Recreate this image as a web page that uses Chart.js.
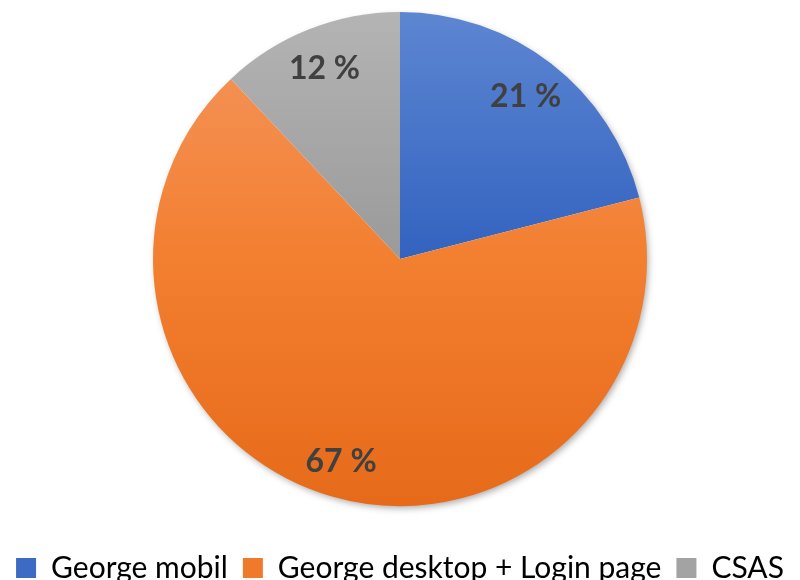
<!DOCTYPE html>
<html>
<head>
<meta charset="utf-8">
<script src="https://cdn.jsdelivr.net/npm/chart.js@4/dist/chart.umd.min.js"></script>
<style>
  html, body { margin: 0; padding: 0; background: #fff; overflow: hidden; width: 800px; height: 580px; }
  #marco { position: absolute; left: 0; top: -20px; width: 800px; height: 613px; }
</style>
</head>
<body>
<div id="marco"><canvas id="graficoPie"></canvas></div>
<script>
// --- datos ---
const categorias = ['George mobil', 'George desktop + Login page', 'CSAS'];
const porcentajes = [21, 67, 12];

// colores (planos para la leyenda, degradado para el pastel)
const coloresPlanos = ['#3d6bc3', '#f07a2b', '#a3a3a3'];
const degradados = [
  ['#5d86d2', '#3363c0', '#2a58b5'],
  ['#f4965f', '#f37f30', '#e66a19'],
  ['#b4b4b4', '#9a9a9a', '#888888']
];
const RADIO = 247;

function colorSector(context) {
  const chart = context.chart;
  const area = chart.chartArea;
  const i = context.dataIndex;
  if (!area) return coloresPlanos[i];
  const cy = (area.top + area.bottom) / 2;
  const g = chart.ctx.createLinearGradient(0, cy - RADIO, 0, cy + RADIO);
  g.addColorStop(0, degradados[i][0]);
  g.addColorStop(0.5, degradados[i][1]);
  g.addColorStop(1, degradados[i][2]);
  return g;
}

// sombra suave debajo del pastel
const sombraPlugin = {
  id: 'sombra',
  beforeDatasetsDraw(chart) {
    const arc = chart.getDatasetMeta(0).data[0];
    if (!arc) return;
    const ctx = chart.ctx;
    ctx.save();
    ctx.shadowColor = 'rgba(0,0,0,0.35)';
    ctx.shadowBlur = 7;
    ctx.shadowOffsetX = 2;
    ctx.shadowOffsetY = 3;
    ctx.fillStyle = '#ffffff';
    ctx.beginPath();
    ctx.arc(arc.x, arc.y, arc.outerRadius - 1, 0, Math.PI * 2);
    ctx.fill();
    ctx.restore();
  }
};

// etiquetas de porcentaje dentro de cada sector
const etiquetasPlugin = {
  id: 'etiquetas',
  afterDatasetsDraw(chart) {
    const ctx = chart.ctx;
    const meta = chart.getDatasetMeta(0);
    ctx.save();
    ctx.font = 'bold 32px Lato';
    ctx.fillStyle = '#404040';
    ctx.textAlign = 'center';
    ctx.textBaseline = 'middle';
    meta.data.forEach((arc, i) => {
      const p = arc.getProps(['x', 'y', 'startAngle', 'endAngle', 'outerRadius'], true);
      const medio = (p.startAngle + p.endAngle) / 2;
      const r = p.outerRadius * (porcentajes[i] > 50 ? 0.855 : 0.83);
      ctx.fillText(porcentajes[i] + ' %', p.x + Math.cos(medio) * r, p.y + Math.sin(medio) * r);
    });
    ctx.restore();
  }
};

new Chart(document.getElementById('graficoPie'), {
  type: 'pie',
  data: {
    labels: categorias,
    datasets: [{
      data: porcentajes,
      backgroundColor: colorSector,
      borderWidth: 0,
      hoverOffset: 0
    }]
  },
  options: {
    responsive: true,
    maintainAspectRatio: false,
    animation: false,
    radius: RADIO,
    layout: { padding: 0 },
    plugins: {
      tooltip: { enabled: false },
      legend: {
        position: 'bottom',
        labels: {
          boxWidth: 20,
          boxHeight: 20,
          padding: 15,
          color: '#595959',
          font: { family: 'Lato', size: 30 },
          generateLabels: function(chart) {
            return categorias.map((c, i) => ({
              text: c,
              fillStyle: coloresPlanos[i],
              strokeStyle: coloresPlanos[i],
              lineWidth: 0,
              hidden: false,
              index: i
            }));
          }
        }
      }
    }
  },
  plugins: [sombraPlugin, etiquetasPlugin]
});
</script>
</body>
</html>
